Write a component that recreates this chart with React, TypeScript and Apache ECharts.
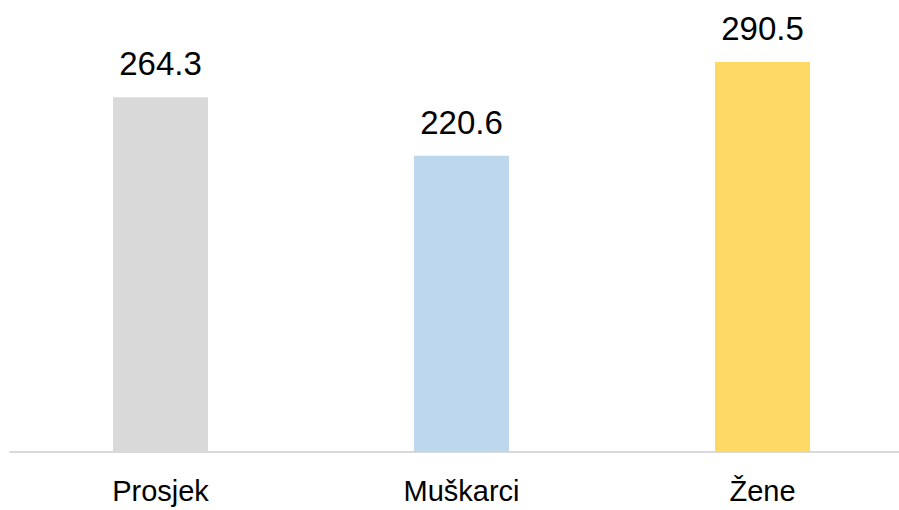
import React, { useEffect, useRef } from "react";
import * as echarts from "echarts";

const categories = ["Prosjek", "Muškarci", "Žene"];
const values = [264.3, 220.6, 290.5];
const colors = ["#D9D9D9", "#BDD7EE", "#FFD966"];

export default function App() {
  const ref = useRef<HTMLDivElement>(null);
  useEffect(() => {
    if (!ref.current) return;
    const chart = echarts.init(ref.current, null, { renderer: "svg" });
    chart.setOption({
      animation: false,
      grid: {
        left: 10,
        top: 49.25,
        right: -14,
        bottom: 58,
        containLabel: false,
        outerBoundsMode: "none",
      },
      xAxis: {
        type: "category",
        data: categories,
        axisLine: { show: true, lineStyle: { color: "#D9D9D9", width: 2 } },
        axisTick: { show: false },
        axisLabel: {
          color: "#000",
          fontFamily: "Liberation Sans",
          fontSize: 29,
          margin: 24,
        },
      },
      yAxis: {
        type: "value",
        min: 0,
        max: 300,
        show: false,
        splitLine: { show: false },
      },
      series: [
        {
          type: "bar",
          barWidth: 95,
          data: values.map((v, i) => ({ value: v, itemStyle: { color: colors[i] } })),
          label: {
            show: true,
            position: "top",
            distance: 17,
            color: "#000",
            fontFamily: "Liberation Sans",
            fontSize: 33,
            formatter: (p: any) => p.value.toFixed(1),
          },
        },
      ],
    });
    return () => chart.dispose();
  }, []);
  return <div ref={ref} style={{ width: 899, height: 510, position: "absolute", left: 0, top: 0 }} />;
}
